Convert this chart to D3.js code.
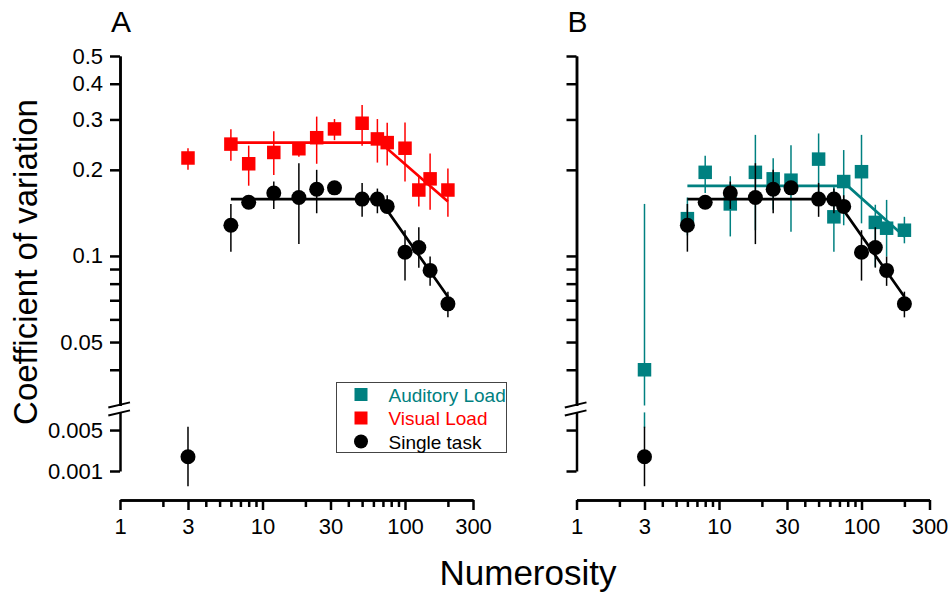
<!DOCTYPE html>
<html>
<head>
<meta charset="utf-8">
<script src="https://cdn.jsdelivr.net/npm/d3@7"></script>
<style>
  body { margin: 0; background: #fff; }
  svg text { font-family: "Liberation Sans", Arial, sans-serif; }
</style>
</head>
<body>
<svg id="chart" width="950" height="593"></svg>
<script>
'use strict';

// numerosities tested (same for all three conditions)
const numerosity = [3, 6, 8, 12, 18, 24, 32, 50, 64, 75, 100, 125, 150, 200];

// single task (black circles)
const singleCv = [0.00175, 0.128, 0.154, 0.166, 0.160, 0.171, 0.173, 0.158, 0.158, 0.149, 0.103, 0.107, 0.089, 0.068];
const singleLo = [0.00055, 0.1035, 0.148, 0.146, 0.110, 0.141, 0.167, 0.137, 0.141, 0.141, 0.082, 0.091, 0.0786, 0.061];
const singleHi = [0.0057, 0.152, 0.160, 0.182, 0.211, 0.200, 0.180, 0.180, 0.172, 0.163, 0.123, 0.126, 0.0995, 0.075];

// visual load (red squares)
const visualCv = [0.220, 0.246, 0.210, 0.230, 0.237, 0.259, 0.278, 0.291, 0.2565, 0.249, 0.238, 0.170, 0.186, 0.170];
const visualLo = [0.200, 0.215, 0.176, 0.192, 0.222, 0.210, 0.254, 0.243, 0.212, 0.207, 0.182, 0.149, 0.145, 0.137];
const visualHi = [0.238, 0.277, 0.243, 0.273, 0.250, 0.307, 0.301, 0.337, 0.301, 0.292, 0.293, 0.189, 0.228, 0.202];

// auditory load (teal squares)
const auditoryCv = [0.040, 0.135, 0.196, 0.152, 0.196, 0.186, 0.184, 0.218, 0.137, 0.182, 0.197, 0.131, 0.125, 0.123];
const auditoryLo = [0.0055, 0.118, 0.166, 0.117, 0.123, 0.145, 0.1216, 0.157, 0.1035, 0.128, 0.130, 0.0917, 0.0995, 0.1107];
const auditoryHi = [0.152, 0.160, 0.224, 0.190, 0.265, 0.2195, 0.244, 0.268, 0.175, 0.2345, 0.265, 0.151, 0.157, 0.137];

// two-segment fits (plateau then decline)
const singleFitX = [6, 66, 200];
const singleFitY = [0.158, 0.158, 0.072];
const visualFitX = [6, 67, 200];
const visualFitY = [0.249, 0.249, 0.155];
const auditoryFitX = [6, 80, 200];
const auditoryFitY = [0.1757, 0.1757, 0.117];

// ticks
const xTicksMajor = [1, 3, 10, 30, 100, 300];
const xTicksMinor = [2, 4, 5, 6, 7, 8, 9, 20, 40, 50, 60, 70, 80, 90, 200];
const yTicksUpper = [0.05, 0.1, 0.2, 0.3, 0.4, 0.5];
const yTicksUpperMinor = [0.04, 0.06, 0.07, 0.08, 0.09];
const yTicksLower = [0.001, 0.005];

const TEAL = '#008080';
const RED = '#ff0000';

const svg = d3.select('#chart');

//broken log axis: upper part 0.03..0.5, lower part 0.001..0.01
const CUT_HI = 0.03;
const CUT_LO = 0.01;
const yUpper = d3.scaleLog().domain([CUT_HI, 0.5]).range([405.5, 56]);
const yLower = d3.scaleLog().domain([0.001, CUT_LO]).range([471, 412.4]);
const yPos = v => (v >= CUT_HI ? yUpper(v) : yLower(v));

const errSegments = (lo, hi) => {
  if (lo >= CUT_HI || hi <= CUT_LO) {
    return [[yPos(lo), yPos(hi)]];
  }
  return [[yUpper(CUT_HI), yUpper(hi)], [yLower(CUT_LO), yLower(lo)]];
};

const makeSeries = (cv, lo, hi) => numerosity.map((n, i) => ({ n, cv: cv[i], lo: lo[i], hi: hi[i] }));

const single = { data: makeSeries(singleCv, singleLo, singleHi), fitX: singleFitX, fitY: singleFitY, color: '#000', shape: 'circle' };
const visual = { data: makeSeries(visualCv, visualLo, visualHi), fitX: visualFitX, fitY: visualFitY, color: RED, shape: 'square' };
const auditory = { data: makeSeries(auditoryCv, auditoryLo, auditoryHi), fitX: auditoryFitX, fitY: auditoryFitY, color: TEAL, shape: 'square' };

const panels = [
  { label: 'A', left: 120, right: 473, labels: true, series: [single, visual] },
  { label: 'B', left: 576.5, right: 929.5, labels: false, series: [auditory, single] }
];

const styleAxis = g => {
  g.selectAll('path.domain').attr('stroke', '#000').attr('stroke-width', 2.5);
  g.selectAll('.tick line').attr('stroke', '#000').attr('stroke-width', 2.5);
  g.selectAll('.tick text').attr('fill', '#000').style('font-size', '22px');
};

panels.forEach(panel => {
  const x = d3.scaleLog().domain([1, 300]).range([panel.left, panel.right]);
  const g = svg.append('g');

  // x axis
  g.append('g')
    .attr('transform', 'translate(0,500)')
    .call(d3.axisBottom(x).tickValues(xTicksMinor).tickSize(7).tickSizeOuter(0).tickFormat(''))
    .call(styleAxis);
  g.append('g')
    .attr('transform', 'translate(0,500)')
    .call(d3.axisBottom(x).tickValues(xTicksMajor).tickSize(10).tickSizeOuter(0).tickPadding(8).tickFormat(d => String(d)))
    .call(styleAxis);

  // y axis, upper and lower pieces
  const fmt = panel.labels ? d => String(d) : '';
  g.append('g')
    .attr('transform', `translate(${panel.left},0)`)
    .call(d3.axisLeft(yUpper).tickValues(yTicksUpperMinor).tickSize(10).tickSizeOuter(0).tickFormat(''))
    .call(styleAxis);
  g.append('g')
    .attr('transform', `translate(${panel.left},0)`)
    .call(d3.axisLeft(yUpper).tickValues(yTicksUpper).tickSize(10).tickSizeOuter(0).tickPadding(7).tickFormat(fmt))
    .call(styleAxis);
  g.append('g')
    .attr('transform', `translate(${panel.left},0)`)
    .call(d3.axisLeft(yLower).tickValues(yTicksLower).tickSize(10).tickSizeOuter(0).tickPadding(7).tickFormat(fmt))
    .call(styleAxis);

  // break marks
  const yMid = (yUpper(CUT_HI) + yLower(CUT_LO)) / 2;
  [-3.8, 4.2].forEach(off => {
    g.append('line')
      .attr('x1', panel.left - 11.7).attr('y1', yMid + off + 2.4)
      .attr('x2', panel.left + 10).attr('y2', yMid + off - 2.8)
      .attr('stroke', '#000').attr('stroke-width', 2);
  });

  // panel letter
  g.append('text')
    .attr('x', panel.left - 9).attr('y', 32)
    .style('font-size', '30px')
    .text(panel.label);

  const line = d3.line().x(d => x(d[0])).y(d => yPos(d[1]));

  panel.series.forEach(s => {
    const sg = g.append('g');

    // error bars
    s.data.forEach(d => {
      errSegments(d.lo, d.hi).forEach(seg => {
        sg.append('line')
          .attr('x1', x(d.n)).attr('x2', x(d.n))
          .attr('y1', seg[0]).attr('y2', seg[1])
          .attr('stroke', s.color).attr('stroke-width', 1.5);
      });
    });

    // fit
    sg.append('path')
      .datum(s.fitX.map((v, i) => [v, s.fitY[i]]))
      .attr('d', line)
      .attr('fill', 'none')
      .attr('stroke', s.color)
      .attr('stroke-width', 2.7);

    // markers
    if (s.shape === 'circle') {
      sg.selectAll('circle')
        .data(s.data)
        .join('circle')
        .attr('cx', d => x(d.n))
        .attr('cy', d => yPos(d.cv))
        .attr('r', 7.5)
        .attr('fill', s.color);
    } else {
      sg.selectAll('rect')
        .data(s.data)
        .join('rect')
        .attr('x', d => x(d.n) - 6.75)
        .attr('y', d => yPos(d.cv) - 6.75)
        .attr('width', 13.5)
        .attr('height', 13.5)
        .attr('fill', s.color);
    }
  });
});

// legend (panel A)
const legendItems = [
  { name: 'Auditory Load', color: TEAL, shape: 'square' },
  { name: 'Visual Load', color: RED, shape: 'square' },
  { name: 'Single task', color: '#000', shape: 'circle' }
];
const legend = svg.append('g').attr('transform', 'translate(336.5,382.5)');
legend.append('rect')
  .attr('width', 170).attr('height', 70)
  .attr('fill', '#fff').attr('stroke', '#444').attr('stroke-width', 1);
legendItems.forEach((item, i) => {
  const cy = 12 + i * 23.5;
  if (item.shape === 'square') {
    legend.append('rect')
      .attr('x', 24.5 - 6.5).attr('y', cy - 6.5)
      .attr('width', 13).attr('height', 13)
      .attr('fill', item.color);
  } else {
    legend.append('circle').attr('cx', 24.5).attr('cy', cy).attr('r', 7).attr('fill', item.color);
  }
  legend.append('text')
    .attr('x', 52).attr('y', cy + 7)
    .attr('fill', item.color)
    .style('font-size', '19px')
    .text(item.name);
});

// axis titles
svg.append('text')
  .attr('transform', 'translate(37,262) rotate(-90)')
  .attr('text-anchor', 'middle')
  .style('font-size', '33px')
  .text('Coefficient of variation');

svg.append('text')
  .attr('x', 528).attr('y', 585)
  .attr('text-anchor', 'middle')
  .style('font-size', '35px')
  .text('Numerosity');
</script>
</body>
</html>
